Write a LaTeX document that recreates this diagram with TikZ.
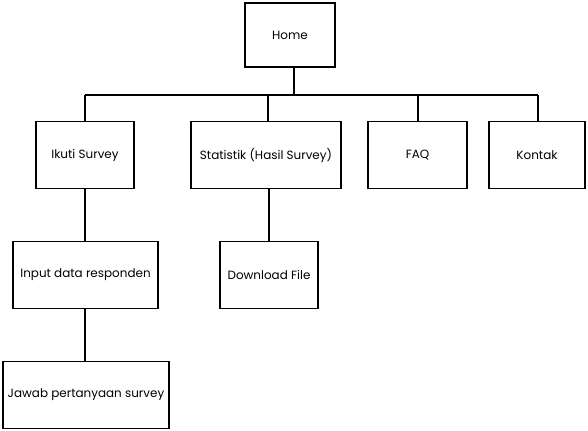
\documentclass[tikz,border=0pt]{standalone}
\usepackage{fontspec}
\setmainfont{Poppins}
\begin{document}
\begin{tikzpicture}[x=1bp,y=-1bp,
  box/.style={draw=black,line width=1.6bp,fill=white,inner sep=0pt,font=\fontsize{12}{14}\selectfont},
  conn/.style={draw=black,line width=1.6bp}]
\useasboundingbox (0,0) rectangle (588,430);
\node[box,minimum width=90bp,minimum height=64bp] (home) at (290,35) {Home};
\node[box,minimum width=98bp,minimum height=67bp] (ikuti) at (85,155) {Ikuti Survey};
\node[box,minimum width=150bp,minimum height=67bp] (stat) at (266,155) {Statistik (Hasil Survey)};
\node[box,minimum width=99bp,minimum height=67bp] (faq) at (417.5,155) {FAQ};
\node[box,minimum width=96bp,minimum height=67bp] (kontak) at (537,155) {Kontak};
\node[box,minimum width=145bp,minimum height=67bp] (input) at (85.5,275) {Input data responden};
\node[box,minimum width=98bp,minimum height=67bp] (down) at (269,275) {Download File};
\node[box,minimum width=166bp,minimum height=67bp] (jawab) at (86,395) {Jawab pertanyaan survey};
\coordinate (bus) at (294,95);
\coordinate (busL) at (85,95);
\coordinate (busR) at (538,95);
\draw[conn] (home.south -| bus) -- (bus);
\draw[conn] (busL) -- (busR);
\draw[conn] (busL) -- (ikuti.north -| busL);
\draw[conn] (stat.north -| 268,0) -- (268,95);
\draw[conn] (faq.north -| 418,0) -- (418,95);
\draw[conn] (kontak.north -| busR) -- (busR);
\draw[conn] (ikuti.south) -- (input.north -| ikuti.south);
\draw[conn] (stat.south -| 269,0) -- (down.north);
\draw[conn] (input.south -| ikuti.south) -- (jawab.north -| ikuti.south);
\end{tikzpicture}
\end{document}
